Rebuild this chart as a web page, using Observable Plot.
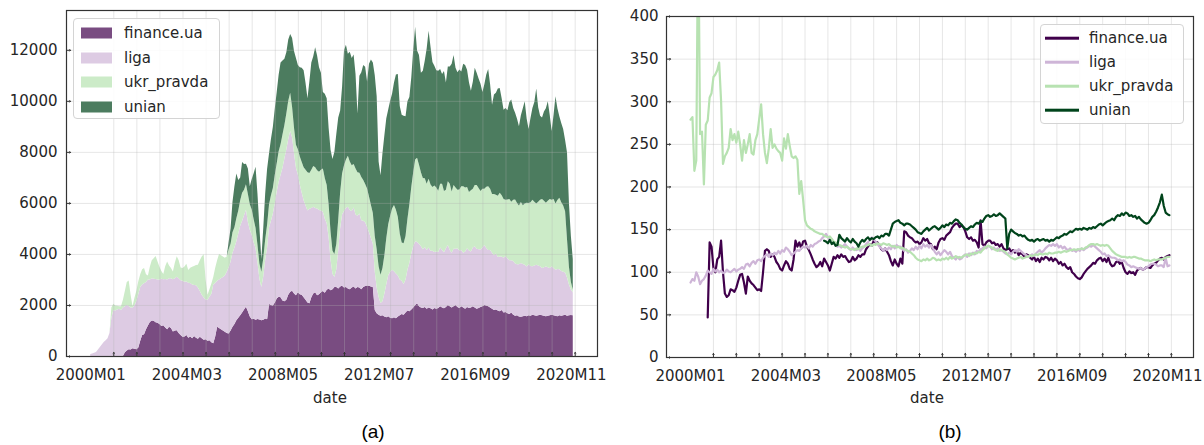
<!DOCTYPE html>
<html>
<head>
<meta charset="utf-8">
<script src="https://cdn.jsdelivr.net/npm/d3@7"></script>
<script src="https://cdn.jsdelivr.net/npm/@observablehq/plot@0.6"></script>
<style>
  html, body { margin: 0; padding: 0; background: #fff; }
  body { width: 1204px; height: 445px; position: relative; overflow: hidden;
         font-family: "DejaVu Sans", sans-serif; color: #262626; }
  .panel { position: absolute; top: 0; }
  .panel svg { overflow: visible; }
  .lbl { position: absolute; transform: translate(-50%, -50%); white-space: nowrap; font-size: 15px; }
  .cap { position: absolute; transform: translate(-50%, -50%); font-family: "Liberation Sans", sans-serif; font-size: 19px; color: #000; }
  .legend { position: absolute; border: 1px solid #d4d4d4; border-radius: 4px; background: rgba(255,255,255,0.85); box-sizing: border-box; }
  .legend .row { position: absolute; left: 0; right: 0; height: 0; }
  .legend .key { position: absolute; transform: translateY(-50%); }
  .legend .txt { position: absolute; transform: translateY(-52%); font-size: 15px; white-space: nowrap; }
</style>
</head>
<body>
<div id="pa" class="panel" style="left:0px"></div>
<div id="pb" class="panel" style="left:602px"></div>
<script>
// ---- series names and colours ----
const names = ["finance.ua", "liga", "ukr_pravda", "unian"];
const areaColors = ["#794c81", "#ddcbe3", "#ccebc8", "#4c7c5f"];
const lineColors = ["#40004b", "#ceb5d7", "#b7e2b1", "#00441b"];

// ---- month axis: index 0 = 2000M01 ----
const monthCount = 252;
const xLabelIdx = [0, 50, 100, 150, 200, 250];
const xLabels = ["2000M01", "2004M03", "2008M05", "2012M07", "2016M09", "2020M11"];
const xGridIdx = [12, 24, 36, 48, 60, 72, 84, 96, 108, 120, 132, 144, 156, 168, 180, 192, 204, 216, 228, 240, 252];
const xDomain = [-12.6, 263.6];

// ---- (a) monthly article counts, stacked ----
const countYTicks = [0, 2000, 4000, 6000, 8000, 10000, 12000];
const countFinanceStart = 18;
const countFinance = [
  150,220,260,250,300,280,260,330,600,820,
  850,1050,1200,1330,1390,1380,1320,1300,1250,1180,
  1210,1120,1050,1150,1100,960,1000,1010,900,820,
  750,760,820,720,760,700,780,720,680,750,
  700,640,660,600,620,540,500,760,1150,1100,
  1050,1000,950,900,880,1000,1150,1250,1400,1500,
  1600,1700,1820,1930,1750,1550,1440,1460,1420,1450,
  1430,1400,1420,1470,1440,2040,2000,1980,2100,2250,
  2320,2300,2180,2150,2200,2400,2520,2560,2450,2380,
  2500,2420,2400,2300,2200,2100,2070,2300,2450,2500,
  2380,2420,2500,2550,2480,2600,2650,2580,2620,2700,
  2700,2650,2720,2750,2680,2700,2650,2620,2680,2720,
  2650,2700,2680,2620,2700,2740,2760,2750,2720,2700,
  1800,1680,1620,1580,1600,1550,1520,1560,1500,1480,
  1520,1480,1550,1600,1650,1620,1700,1780,1750,1820,
  1900,2000,2070,1950,1900,1880,1920,1850,1900,1870,
  1820,1880,1850,1880,1950,1900,1870,1920,2000,1950,
  1900,1950,2000,1920,1880,1950,1900,1850,1920,1880,
  1900,1950,1900,1850,1880,1920,1950,2000,1980,1950,
  1900,1850,1800,1820,1780,1750,1800,1700,1720,1680,
  1650,1700,1620,1580,1600,1550,1540,1560,1580,1560,
  1600,1580,1620,1600,1580,1600,1620,1600,1580,1560,
  1580,1600,1620,1600,1580,1560,1600,1580,1600,1620,1580,1600,1610,1600
];
const countLigaStart = 0;
const countLiga = [
  80,100,130,160,250,350,450,550,620,700,
  900,1500,1800,1780,1820,1850,1800,1900,1800,1780,
  1700,1650,1600,1700,1900,2100,2100,1980,2000,1850,
  1800,1670,1660,1650,1700,1700,1750,1850,1800,1900,
  1950,1900,1950,2050,2050,2100,2150,2150,2200,2150,
  2100,2150,2100,2100,2000,2050,2000,1800,1700,1650,
  1550,1600,1700,1900,2300,2100,1800,1900,2000,2100,
  2200,2400,2600,2700,2900,3000,3100,3300,3500,3600,
  3700,3800,3500,3400,3300,3000,2800,2200,1600,1300,
  1700,2300,2800,3000,3300,3600,3900,4200,4500,4800,
  5200,5600,5900,6100,6300,6000,5500,5000,4600,4300,
  4000,3800,3700,3600,3700,3500,3400,3300,3400,3300,
  3200,3100,2900,2600,2000,1200,600,400,700,1500,
  2300,2800,3000,3100,3200,3100,3000,3100,2900,2800,
  2900,2700,2600,2500,2300,2100,1900,1700,1500,1000,
  700,500,550,900,1300,1600,1800,1900,1800,1750,
  1600,1400,1300,1200,1300,1600,1900,2200,2400,2500,
  2400,2450,2400,2300,2350,2300,2350,2250,2300,2200,
  2250,2200,2300,2250,2200,2300,2350,2200,2150,2250,
  2200,2300,2250,2200,2150,2250,2300,2250,2200,2300,
  2400,2350,2300,2250,2300,2350,2250,2200,2250,2200,
  2150,2200,2100,2150,2100,2150,2200,2150,2100,2050,
  2100,2050,2000,2050,2100,2050,2000,1950,2000,1950,
  1900,1950,2000,1950,1900,1850,1900,1950,1900,1850,
  1900,1850,1800,1850,1800,1750,1700,1650,1500,1200,1000,900
];
const countUkrStart = 11;
const countUkr = [
  400,250,200,150,100,150,300,600,900,1000,
  500,50,300,400,500,500,600,600,300,150,
  500,700,800,900,700,500,300,200,500,700,
  500,400,300,600,800,700,500,500,600,700,
  500,600,700,750,800,900,1200,1500,1700,800,
  200,300,400,300,600,800,1000,900,800,700,
  600,700,700,800,800,900,900,1000,1100,1000,
  1000,1100,1000,1000,900,800,700,600,600,700,
  800,900,900,1000,1000,1100,1100,1200,1200,1300,
  1300,1400,1500,1500,1200,1000,900,1000,1100,1200,
  1300,1400,1500,1400,1500,1600,1600,1500,1500,1600,
  1700,1600,1500,1300,1100,900,900,1000,1200,1400,
  1600,1800,1900,2000,1900,1800,1700,1800,1700,1600,
  1700,1600,1500,1500,1400,1300,1200,1400,1500,1200,
  1100,1300,1500,1800,2000,2200,2400,2600,2500,2300,
  1800,1500,1600,1700,2000,2300,2600,2900,3200,3300,
  3100,2900,2800,2700,2600,2700,2600,2500,2600,2500,
  2400,2500,2600,2400,2300,2500,2600,2400,2500,2400,
  2300,2400,2500,2600,2500,2400,2300,2400,2300,2400,
  2500,2400,2300,2300,2200,2400,2500,2400,2300,2400,
  2300,2400,2500,2400,2300,2200,2300,2400,2300,2400,
  2500,2400,2300,2400,2300,2400,2500,2400,2500,2600,
  2500,2400,2500,2600,2700,2600,2500,2600,2700,2600,
  2700,2600,2700,2800,2700,2600,2400,1500,700,300,100
];
const countUnianStart = 72;
const countUnian = [
  300,600,1200,1600,1750,1200,900,1200,1000,800,
  1000,700,1200,1800,2400,2000,1400,500,1200,1800,
  2200,2000,2200,2400,2600,2800,3000,3200,2900,2600,
  2400,2400,2300,2700,3000,3400,3300,3500,3700,3800,
  3400,2900,3600,4200,4300,4700,4500,4100,3800,3000,
  3300,3400,3000,3200,3600,4000,4300,4000,3200,3400,
  4500,4500,4000,4300,4200,4300,3700,2300,3800,4100,
  4500,4600,4200,5200,5700,5900,6300,6000,4100,3900,
  4500,4700,4700,4500,4500,4500,4800,5300,5600,5000,
  5000,5000,4700,4600,4200,4300,4800,5200,4200,4300,
  3900,4200,4600,5300,5800,5400,4900,4700,4600,4700,
  4500,4300,4700,4200,4500,4600,5000,5100,4700,4600,
  4700,4500,4800,4800,4600,4300,3900,4200,4600,4400,
  4300,4200,3800,4100,4400,4600,4100,3500,3900,4000,
  4200,4100,3800,3500,3600,3500,3800,4000,3600,3400,
  3300,3100,3400,3800,4000,3300,2900,3300,3600,3900,
  4500,3700,3300,3200,3500,3700,3900,3300,2700,3300,
  4200,3600,3200,3100,3000,2800,3400,2500,1800,1200
];

// ---- (b) monthly averages per source ----
const avgYTicks = [0, 50, 100, 150, 200, 250, 300, 350, 400];
const avgFinanceStart = 9;
const avgFinance = [
  47,135,130,105,100,115,118,137,100,75,71,
  73,80,79,77,82,90,97,98,88,75,
  95,90,87,85,82,79,80,78,100,125,
  127,125,118,121,118,112,109,104,102,108,
  113,110,104,102,115,137,130,135,128,136,
  137,130,126,121,115,110,106,108,112,107,
  116,112,108,102,110,118,116,120,117,121,
  118,119,115,112,113,118,114,116,120,118,
  121,121,127,130,133,131,137,135,135,131,
  127,125,128,124,120,113,108,115,110,107,
  116,110,148,147,143,141,140,137,135,136,
  133,135,140,137,139,134,133,127,130,127,
  135,139,140,138,143,145,147,152,155,157,
  157,153,155,153,148,141,139,141,137,138,
  135,129,161,133,131,135,137,137,134,135,
  132,133,130,133,128,126,127,128,124,126,
  123,125,120,123,121,118,121,120,117,115,
  118,113,116,112,117,115,118,117,114,117,
  113,116,114,110,112,108,110,106,104,106,
  100,98,95,93,92,94,98,101,104,106,
  108,111,110,114,116,117,113,116,112,117,
  110,107,108,112,113,110,112,105,100,98,
  101,99,100,97,102,104,105,103,104,106,
  106,105,108,110,111,114,116,117,115,118,119,120
];
const avgLigaStart = 0;
const avgLiga = [
  88,92,90,100,95,86,90,92,96,102,
  100,98,104,101,103,100,102,99,100,103,
  101,100,102,104,101,103,104,106,104,109,
  110,107,111,113,110,114,115,113,117,119,
  121,118,122,120,123,121,125,122,126,124,
  129,127,124,120,122,124,126,125,128,130,
  129,131,128,132,130,133,134,136,137,140,
  142,145,141,137,139,135,132,130,131,129,
  131,133,130,128,126,129,127,126,128,125,
  128,130,133,135,138,141,139,136,133,130,
  128,125,128,126,129,127,131,128,132,130,
  130,127,125,127,123,125,128,126,130,127,
  131,128,133,130,132,129,132,128,124,121,
  124,120,123,126,124,121,124,119,117,115,
  118,115,116,119,121,118,122,120,123,121,
  125,124,127,128,130,128,131,130,127,129,
  126,128,125,126,124,122,121,123,121,124,
  126,124,127,125,123,121,120,118,119,121,
  119,122,124,126,123,125,128,130,132,131,
  133,131,133,129,131,128,130,127,126,128,
  125,126,124,127,125,128,126,128,129,131,
  130,132,130,128,126,124,121,122,119,120,
  118,117,117,116,114,115,113,114,112,109,
  108,106,107,106,105,104,105,103,104,106,
  107,109,110,110,109,107,108,108,106,117,107,108
];
const avgUkrStart = 0;
const avgUkr = [
  279,282,219,231,520,262,265,203,273,278,
  305,310,329,332,337,346,301,227,236,240,
  246,268,255,262,252,265,250,231,255,240,
  250,262,240,238,255,262,280,297,262,240,
  228,245,268,246,250,245,242,240,231,257,
  245,262,248,236,234,236,232,192,207,185,
  161,155,153,151,150,148,147,146,145,145,
  143,142,141,142,139,136,135,133,132,131,
  130,129,130,128,127,127,126,128,127,129,
  130,130,131,132,133,131,133,132,134,133,
  132,134,133,132,133,131,130,131,129,130,
  128,129,127,126,125,124,122,120,117,115,
  114,113,115,114,116,114,115,117,116,114,
  115,114,116,115,117,115,118,116,117,119,
  117,118,117,119,120,121,119,122,121,123,
  122,124,123,126,128,130,131,130,129,127,
  126,125,127,126,125,124,121,119,117,116,
  115,116,117,118,116,117,118,118,120,119,
  120,121,120,122,121,121,122,121,123,122,
  122,123,123,124,123,124,125,124,125,126,
  126,127,126,127,127,128,127,129,130,132,
  133,133,132,133,132,131,132,131,132,131,
  128,125,123,121,120,119,118,118,118,117,
  118,117,118,118,117,116,116,115,114,114,
  114,113,114,115,114,115,115,115,116,117,118,118
];
const avgUnianStart = 70;
const avgUnian = [
  137,136,134,138,133,135,131,132,144,140,
  138,136,140,137,135,139,136,134,130,135,
  138,136,139,141,138,140,139,141,142,140,
  143,142,145,145,143,150,157,159,160,161,
  158,157,155,157,157,156,154,152,150,147,
  146,145,148,150,152,149,151,153,154,152,
  150,152,155,153,156,155,158,157,160,162,
  161,158,156,153,151,150,152,154,153,156,
  158,157,160,159,163,166,167,165,166,168,
  166,167,169,167,165,163,128,145,150,148,
  146,145,143,144,142,143,140,138,137,138,
  136,138,139,137,138,139,137,138,136,138,
  137,139,141,140,142,143,145,144,146,148,
  147,149,151,150,151,150,152,151,150,152,
  151,153,152,154,156,157,155,157,159,160,
  161,163,161,165,167,166,169,167,170,169,
  166,167,165,166,163,165,162,160,158,157,
  158,161,165,167,171,176,182,191,178,170,168,167
];

// ---- tables ----
const countSets = [
  [countFinanceStart, countFinance], [countLigaStart, countLiga],
  [countUkrStart, countUkr], [countUnianStart, countUnian]
];
const avgSets = [
  [avgFinanceStart, avgFinance], [avgLigaStart, avgLiga],
  [avgUkrStart, avgUkr], [avgUnianStart, avgUnian]
];

// stacked counts: months without articles count as zero
const countRows = [];
names.forEach((key, s) => {
  const [start, vals] = countSets[s];
  for (let i = 0; i < monthCount; i++) {
    const k = i - start;
    countRows.push({key, i, v: k >= 0 && k < vals.length ? vals[k] : 0});
  }
});
const avgRows = [];
names.forEach((key, s) => {
  const [start, vals] = avgSets[s];
  vals.forEach((v, k) => avgRows.push({key, i: start + k, v}));
});

const fmtX = d => xLabels[xLabelIdx.indexOf(d)];
const axisStyle = {fontFamily: "DejaVu Sans", fontSize: "15px", color: "#262626", background: "transparent", overflow: "visible"};
const gridStroke = {stroke: "#b0b0b0", strokeOpacity: 0.32, strokeWidth: 1};
const tickStyle = {stroke: "#333", strokeWidth: 1, length: 4, anchor: "start"};

// ---- (a) stacked area ----
const yA = [0, 13560];
const chartA = Plot.plot({
  width: 602, height: 400,
  marginLeft: 66, marginRight: 5, marginTop: 10, marginBottom: 44,
  style: axisStyle,
  x: {domain: xDomain, axis: null},
  y: {domain: yA, axis: null},
  color: {domain: names, range: areaColors},
  marks: [
    Plot.areaY(countRows, {x: "i", y: "v", fill: "key", curve: "linear"}),
    Plot.ruleX(xGridIdx, gridStroke),
    Plot.ruleY(countYTicks.slice(1), gridStroke),
    Plot.vector(xGridIdx, {x: d => d, y: yA[0], rotate: 0, ...tickStyle}),
    Plot.vector(countYTicks, {x: xDomain[0], y: d => d, rotate: 90, ...tickStyle}),
    Plot.axisX(xLabelIdx, {tickSize: 0, tickPadding: 13, tickFormat: fmtX, fontSize: 15, label: null}),
    Plot.axisY(countYTicks, {tickSize: 0, tickPadding: 9, tickFormat: d => String(d), fontSize: 15, label: null}),
    Plot.frame({stroke: "#333", strokeWidth: 1.2})
  ]
});
document.getElementById("pa").appendChild(chartA);

// ---- (b) lines ----
const yB = [0, 400];
const chartB = Plot.plot({
  width: 602, height: 400,
  marginLeft: 64, marginRight: 11, marginTop: 16, marginBottom: 43,
  style: axisStyle,
  x: {domain: xDomain, axis: null},
  y: {domain: yB, axis: null},
  color: {domain: names, range: lineColors},
  marks: [
    Plot.ruleX(xGridIdx, gridStroke),
    Plot.ruleY(avgYTicks.slice(1), gridStroke),
    Plot.lineY(avgRows, {x: "i", y: "v", stroke: "key", z: "key", strokeWidth: 2.2, clip: true}),
    Plot.vector(xGridIdx, {x: d => d, y: yB[0], rotate: 0, ...tickStyle}),
    Plot.vector(avgYTicks, {x: xDomain[0], y: d => d, rotate: 90, ...tickStyle}),
    Plot.axisX(xLabelIdx, {tickSize: 0, tickPadding: 13, tickFormat: fmtX, fontSize: 15, label: null}),
    Plot.axisY(avgYTicks, {tickSize: 0, tickPadding: 8, tickFormat: d => String(d), fontSize: 15, label: null}),
    Plot.frame({stroke: "#333", strokeWidth: 1.2})
  ]
});
document.getElementById("pb").appendChild(chartB);

// ---- labels, captions, legends ----
function addDiv(cls, text, x, y) {
  const d = document.createElement("div");
  d.className = cls; d.textContent = text;
  d.style.left = x + "px"; d.style.top = y + "px";
  document.body.appendChild(d);
}
addDiv("lbl", "date", 330, 398);
addDiv("lbl", "date", 927, 398);
addDiv("cap", "(a)", 373, 432);
addDiv("cap", "(b)", 950, 432);

function legend(left, top, w, h, rowY, keyLeft, textLeft, keyFor) {
  const box = document.createElement("div");
  box.className = "legend";
  Object.assign(box.style, {left: left + "px", top: top + "px", width: w + "px", height: h + "px"});
  names.forEach((name, s) => {
    const row = document.createElement("div");
    row.className = "row"; row.style.top = rowY[s] + "px";
    const key = document.createElement("div");
    key.className = "key"; key.style.left = keyLeft + "px";
    keyFor(key, s);
    const t = document.createElement("div");
    t.className = "txt"; t.style.left = textLeft + "px"; t.textContent = name;
    row.appendChild(key); row.appendChild(t); box.appendChild(row);
  });
  document.body.appendChild(box);
}
legend(73, 18, 147, 101, [14, 39, 63, 88], 7, 50, (k, s) => {
  Object.assign(k.style, {width: "31px", height: "11px", background: areaColors[s]});
});
legend(1040, 24, 144, 100, [13, 37, 61, 85], 4, 48, (k, s) => {
  Object.assign(k.style, {width: "34px", height: "2.6px", background: lineColors[s]});
});
</script>
</body>
</html>
